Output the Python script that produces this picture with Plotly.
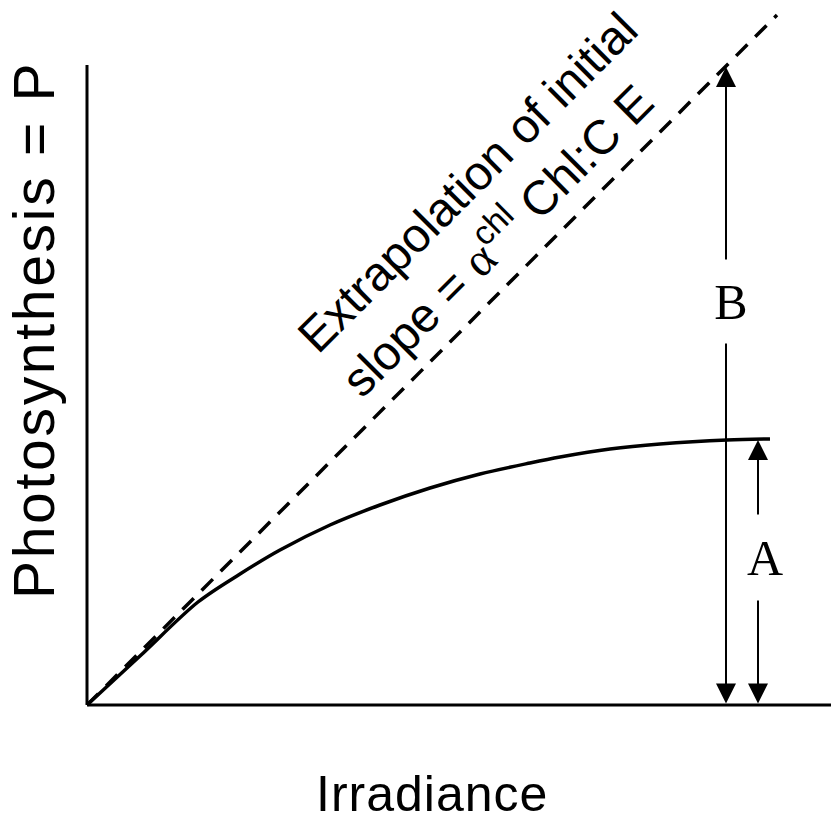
import plotly.graph_objects as go

# Photosynthesis–irradiance (P–E) curve, arbitrary units
irradiance = [0, 53, 111, 153, 193, 243, 293, 343, 393, 443, 473, 523, 573, 640, 683]
photosynthesis = [0, 49, 103, 131, 155, 180, 200, 217, 231, 242, 248, 256, 261, 265, 266]

# Extrapolated initial slope (alpha^chl * Chl:C * E)
slope_e = [0, 690]
slope_p = [0, 690]

# Axis lines
yaxis_e = [0, 0]
yaxis_p = [0, 640]
xaxis_e = [0, 744]
xaxis_p = [0, 0]

# Double-headed arrows: B = gap to initial slope, A = light-saturated rate
arrow_b_e = 639
arrow_b_top = 638
arrow_a_e = 671
arrow_a_top = 265

SANS = "Liberation Sans, Arial, sans-serif"
SERIF = "Liberation Serif, Times New Roman, serif"

fig = go.Figure()

fig.add_trace(go.Scatter(x=yaxis_e, y=yaxis_p, mode="lines",
                         line=dict(color="black", width=3), hoverinfo="skip"))
fig.add_trace(go.Scatter(x=xaxis_e, y=xaxis_p, mode="lines",
                         line=dict(color="black", width=3), hoverinfo="skip"))
fig.add_trace(go.Scatter(x=slope_e, y=slope_p, mode="lines",
                         line=dict(color="black", width=3.5, dash="16px,11px"),
                         hoverinfo="skip"))
fig.add_trace(go.Scatter(x=irradiance, y=photosynthesis, mode="lines",
                         line=dict(color="black", width=3.5, shape="spline",
                                   smoothing=0.9),
                         hoverinfo="skip"))

annotations = []
for xe, ytop in [(arrow_b_e, arrow_b_top), (arrow_a_e, arrow_a_top)]:
    annotations.append(dict(
        x=xe, y=ytop, ax=xe, ay=0, xref="x", yref="y", axref="x", ayref="y",
        text="", showarrow=True, arrowside="end+start",
        arrowhead=2, startarrowhead=2, arrowsize=2, startarrowsize=2,
        arrowwidth=2, arrowcolor="black", standoff=0, startstandoff=0,
    ))

annotations.append(dict(
    x=arrow_b_e + 5, y=404, xref="x", yref="y", text="B", showarrow=False,
    font=dict(family=SERIF, size=50, color="black"),
    bgcolor="white", width=50, height=83, borderpad=0,
))
annotations.append(dict(
    x=678, y=148, xref="x", yref="y", text="A", showarrow=False,
    font=dict(family=SERIF, size=50, color="black"),
    bgcolor="white", width=74, height=85, borderpad=0,
))

annotations.append(dict(
    x=402, y=501, xref="x", yref="y", showarrow=False, textangle=-45,
    align="left", xanchor="center", yanchor="middle", borderpad=0,
    text=("Extrapolation of initial<br>slope = "
          f"<span style='font-family:{SERIF}'>α</span><sup>chl</sup> Chl:C E"),
    font=dict(family=SANS, size=48, color="black"),
))

annotations.append(dict(
    x=-53, y=375, xref="x", yref="y", showarrow=False, textangle=-90,
    text="<span style='letter-spacing:2.7px'>Photosynthesis = P</span>",
    font=dict(family=SANS, size=57, color="black"),
))
annotations.append(dict(
    x=345, y=-89, xref="x", yref="y", showarrow=False,
    text="<span style='letter-spacing:1px'>Irradiance</span>",
    font=dict(family=SANS, size=50, color="black"),
))

fig.update_layout(
    width=831, height=821,
    margin=dict(l=0, r=0, t=0, b=0),
    paper_bgcolor="white", plot_bgcolor="white",
    showlegend=False,
    xaxis=dict(range=[-87, 744], visible=False, fixedrange=True),
    yaxis=dict(range=[-116, 705], visible=False, fixedrange=True),
    annotations=annotations,
)

fig.write_html("out.html")
